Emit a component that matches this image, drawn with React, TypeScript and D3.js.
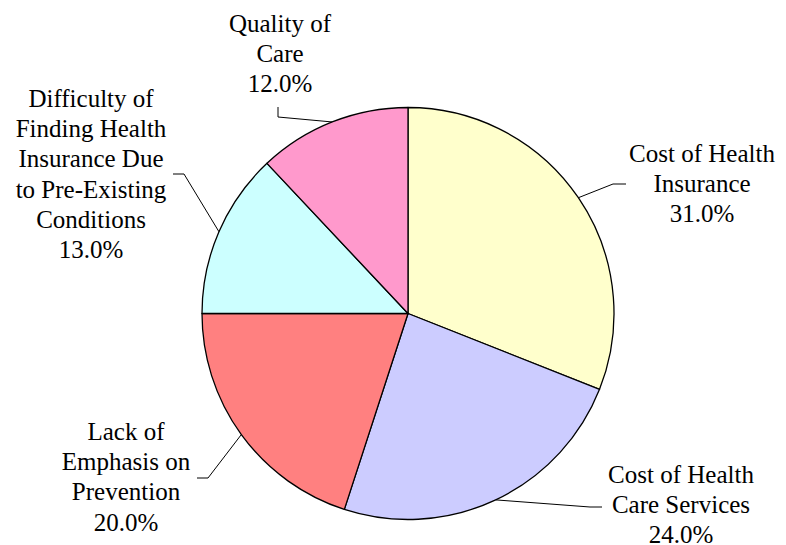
import React from "react";
import * as d3 from "d3";

const categories = [
  "Cost of Health Insurance",
  "Cost of Health Care Services",
  "Lack of Emphasis on Prevention",
  "Difficulty of Finding Health Insurance Due to Pre-Existing Conditions",
  "Quality of Care",
];
const values = [31, 24, 20, 13, 12];
const labelLines = [
  ["Cost of Health", "Insurance"],
  ["Cost of Health", "Care Services"],
  ["Lack of", "Emphasis on", "Prevention"],
  ["Difficulty of", "Finding Health", "Insurance Due", "to Pre-Existing", "Conditions"],
  ["Quality of", "Care"],
];
const colors = ["#FFFFCC", "#CCCCFF", "#FF8080", "#CCFFFF", "#FF99CC"];

// layout: label block centre x, first baseline y, leader kink & end points
const layout = [
  { cx: 702, by: 162, kink: [613, 184], end: [626, 184] },
  { cx: 681, by: 483, kink: [590, 507], end: [602, 507] },
  { cx: 126, by: 440, kink: [208, 478], end: [197, 478] },
  { cx: 91, by: 107, kink: [184, 174], end: [173, 174] },
  { cx: 280, by: 32, kink: [278, 117], end: [278, 107] },
];

const W = 786;
const H = 545;
const CX = 408;
const CY = 313.5;
const R = 206;
const LINE_H = 30.2;

export default function App() {
  const total = d3.sum(values);
  const pie = d3.pie<number>().sort(null).value((d) => d)(values);
  const arc = d3.arc<d3.PieArcDatum<number>>().innerRadius(0).outerRadius(R);
  const fmt = d3.format(".1%");

  return (
    <svg width={W} height={H} style={{ position: "absolute", left: 0, top: 0 }}>
      <rect width={W} height={H} fill="#fff" />
      <g transform={`translate(${CX},${CY})`}>
        {pie.map((p, i) => (
          <path
            key={categories[i]}
            d={arc(p) || ""}
            fill={colors[i]}
            stroke="#000"
            strokeWidth={1.3}
            strokeLinejoin="round"
          />
        ))}
      </g>
      {pie.map((p, i) => {
        const mid = (p.startAngle + p.endAngle) / 2;
        const sx = CX + R * Math.sin(mid);
        const sy = CY - R * Math.cos(mid);
        const L = layout[i];
        return (
          <polyline
            key={"l" + i}
            points={`${sx},${sy} ${L.kink[0]},${L.kink[1]} ${L.end[0]},${L.end[1]}`}
            fill="none"
            stroke="#000"
            strokeWidth={1}
          />
        );
      })}
      {values.map((v, i) => {
        const L = layout[i];
        const lines = [...labelLines[i], fmt(v / total)];
        return lines.map((s, j) => (
          <text
            key={"t" + i + "_" + j}
            x={L.cx}
            y={L.by + j * LINE_H}
            textAnchor="middle"
            style={{ fontFamily: "Liberation Serif", fontSize: "25px" }}
          >
            {s}
          </text>
        ));
      })}
    </svg>
  );
}
